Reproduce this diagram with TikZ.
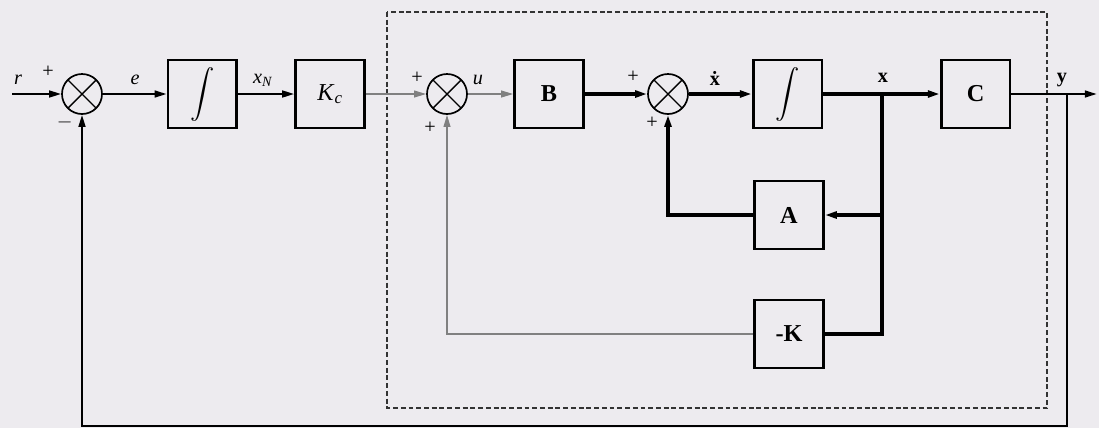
\documentclass[tikz,border=0pt]{standalone}
\usepackage{fontspec}
\setmainfont{Liberation Serif}
\usepackage{tikz}
\usetikzlibrary{arrows.meta}
\usepackage{amsmath}

\definecolor{paper}{RGB}{237,235,239}

\begin{document}
\begin{tikzpicture}[
    block/.style={rectangle, draw, line width=2pt, minimum width=1.72cm, minimum height=1.7cm, inner sep=0pt, font=\LARGE},
    summer/.style={circle, draw, line width=1.2pt, minimum size=1cm, inner sep=0pt,
        path picture={\draw[line width=1pt] (path picture bounding box.north west) -- (path picture bounding box.south east)
            (path picture bounding box.north east) -- (path picture bounding box.south west);}},
    tip/.style={-{Triangle[length=3mm, width=1.7mm]}},
    sig/.style={line width=1.5pt},
    heavy/.style={line width=2.6pt},
    faint/.style={line width=1pt, draw=black!50},
    plant/.style={line width=1pt, draw=black!80, dash pattern=on 3.5pt off 2pt},
    sign/.style={font=\Large},
    lbl/.style={font=\Large}
]

% --- Paper and frame ---
\fill[paper] (0,0) rectangle (27.475,-10.7);
\useasboundingbox (0,0) rectangle (27.475,-10.7);

% --- Blocks and summing junctions ---
\coordinate (rin) at (0.3,-2.35);
\node[summer] (s1) at (2.05,-2.35) {};
\node[block] (int1) at (5.06,-2.35) {$\displaystyle\int$};
\node[block] (kc) at (8.25,-2.35) {\textit{K}\textsubscript{\textit{c}}};
\node[summer] (s2) at (11.175,-2.35) {};
\node[block] (bb) at (13.725,-2.35) {\textbf{B}};
\node[summer] (s3) at (16.7,-2.35) {};
\node[block] (int2) at (19.69,-2.35) {$\displaystyle\int$};
\node[block] (cc) at (24.39,-2.35) {\textbf{C}};
\node[block] (aa) at (19.725,-5.375) {\textbf{A}};
\node[block] (kk) at (19.725,-8.35) {\textbf{-K}};

\coordinate (xj) at (22.05,-2.35);
\coordinate (yj) at (26.675,-2.35);
\coordinate (yout) at (27.42,-2.35);
\coordinate (fb) at (26.675,-10.65);

% --- Plant frame (dashed) ---
\draw[plant] (9.675,-0.3) rectangle (26.175,-10.2);

% --- Forward path ---
\draw[sig, tip] (rin) -- (s1);
\draw[sig, tip] (s1) -- (int1);
\draw[sig, tip] (int1) -- (kc);
\draw[faint, tip] (kc) -- (s2);
\draw[faint, tip] (s2) -- (bb);
\draw[heavy, tip] (bb) -- (s3);
\draw[heavy, tip] (s3) -- (int2);
\draw[heavy, tip] (int2) -- (cc);
\draw[sig, tip] (cc) -- (yout);

% --- Inner loops ---
\draw[heavy] (xj) |- (kk);
\draw[heavy, tip] (xj |- aa) -- (aa);
\draw[heavy, tip] (aa) -| (s3);
\draw[faint, tip] (kk) -| (s2);

% --- Output feedback ---
\draw[sig, tip] (yj) -- (fb) -| (s1);

% --- Signal labels and signs ---
\node[lbl] (rlab) at (0.45,-2.0) {\textit{r}};
\node[sign] (p1) at (1.2,-1.8) {+};
\node[sign] (m1) at (1.62,-3.05) {$-$};
\node[lbl] (elab) at (3.375,-2.0) {\textit{e}};
\node[lbl] (xnlab) at (6.575,-2.0) {\textit{x}\textsubscript{\textit{N}}};
\node[sign] (p2a) at (10.425,-1.95) {+};
\node[sign] (p2b) at (10.75,-3.2) {+};
\node[lbl] (ulab) at (11.95,-2.0) {\textit{u}};
\node[sign] (p3a) at (15.83,-1.93) {+};
\node[sign] (p3b) at (16.3,-3.08) {+};
\node[lbl] (xdlab) at (17.875,-1.95) {\textbf{\.{x}}};
\node[lbl] (xlab) at (22.075,-1.95) {\textbf{x}};
\node[lbl] (ylab) at (26.55,-2.0) {\textbf{y}};

\end{tikzpicture}
\end{document}
